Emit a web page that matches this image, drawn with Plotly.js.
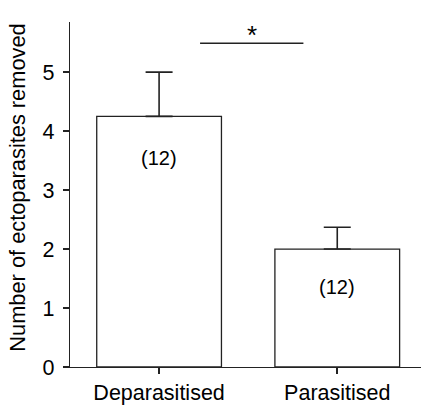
<!DOCTYPE html>
<html>
<head>
<meta charset="utf-8">
<script src="https://cdn.plot.ly/plotly-3.0.1.min.js"></script>
<style>html,body{margin:0;padding:0;background:#fff;}#chart{width:422px;height:406px;}</style>
</head>
<body>
<div id="chart"></div>
<script>
var categories = ["Deparasitised", "Parasitised"];
var means = [4.25, 2.0];
var errorsUp = [0.75, 0.37];
var sampleLabels = ["(12)", "(12)"];
var labelY = [3.55, 1.35];
var yTicks = [0, 1, 2, 3, 4, 5];
var yTitle = "Number of ectoparasites removed";
var sigText = "*";
var sigY = 5.49;

var xIdx = categories.map(function(_, i){ return i; });
var FONT = "Liberation Sans, Arial, sans-serif";

var trace = {
  type: "bar",
  x: xIdx,
  y: means,
  width: 0.70,
  marker: {color: "#ffffff", line: {color: "#222222", width: 1.3}},
  error_y: {type: "data", symmetric: false, array: errorsUp, arrayminus: [0, 0],
            color: "#222222", thickness: 1.6, width: 13.5},
  hoverinfo: "none"
};

var annotations = sampleLabels.map(function(t, i){
  return {x: xIdx[i], y: labelY[i], text: t, showarrow: false,
          font: {family: FONT, size: 20, color: "#000"}};
});
annotations.push({x: 0.52, y: sigY, text: sigText, showarrow: false, yanchor: "bottom", yshift: -9,
  font: {family: FONT, size: 26, color: "#000"}});
annotations.push({xref: "paper", yref: "paper", x: -0.148, y: 0.52, xanchor: "center", yanchor: "middle",
  text: yTitle, textangle: -90, showarrow: false, font: {family: FONT, size: 21.8, color: "#000"}});

var layout = {
  width: 422, height: 406,
  margin: {l: 70, r: 1, t: 22, b: 39},
  paper_bgcolor: "#fff", plot_bgcolor: "#fff",
  showlegend: false,
  font: {family: FONT, color: "#000"},
  xaxis: {
    range: [-0.5, 1.47],
    tickvals: xIdx, ticktext: categories,
    showgrid: false, zeroline: false,
    showline: true, linecolor: "#222222", linewidth: 1.3,
    ticks: "outside", ticklen: 6, tickwidth: 2, tickcolor: "#222222",
    tickfont: {size: 21.5, color: "#000"},
    fixedrange: true
  },
  yaxis: {
    range: [0, 5.85],
    tickvals: yTicks,
    showgrid: false, zeroline: false,
    showline: true, linecolor: "#222222", linewidth: 1.3,
    ticks: "outside", ticklen: 6, tickwidth: 2, tickcolor: "#222222",
    tickfont: {size: 21.5, color: "#000"},
    ticklabelstandoff: 4,
    fixedrange: true
  },
  shapes: [{type: "line", xref: "x", yref: "y", x0: 0.23, x1: 0.81, y0: sigY, y1: sigY,
            line: {color: "#222222", width: 1.5}}],
  annotations: annotations
};

Plotly.newPlot("chart", [trace], layout, {displayModeBar: false, staticPlot: true});
</script>
</body>
</html>
